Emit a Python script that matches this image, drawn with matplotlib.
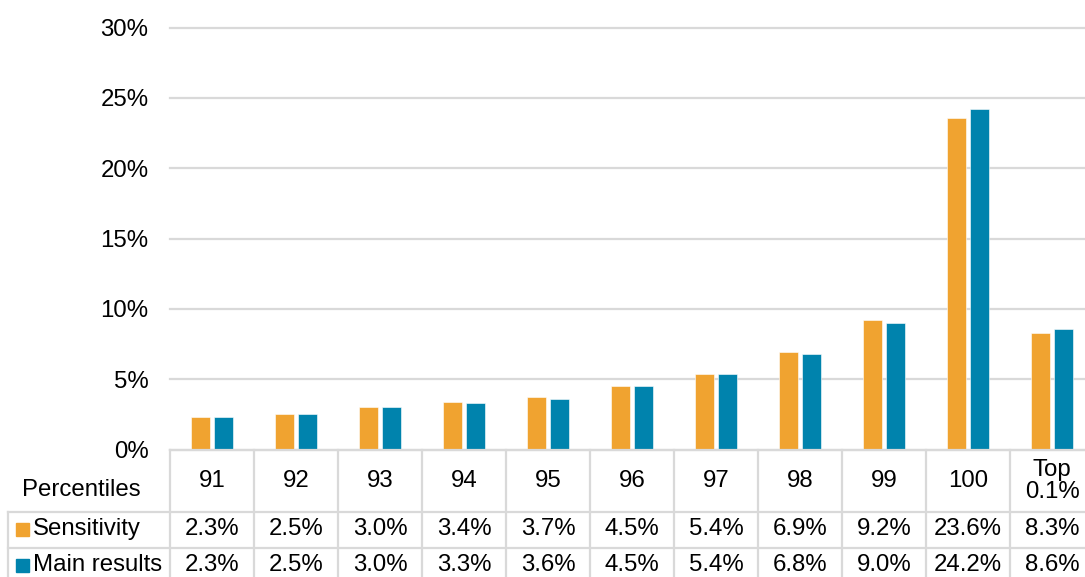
import matplotlib
matplotlib.use("Agg")
import matplotlib.pyplot as plt
from matplotlib.lines import Line2D
from matplotlib.patches import Rectangle
from matplotlib.transforms import blended_transform_factory
import numpy as np

plt.rcParams["font.family"] = ["Liberation Sans", "DejaVu Sans"]

# data (percent of total)
categories = ["91", "92", "93", "94", "95", "96", "97", "98", "99", "100", "Top\n0.1%"]
sensitivity = [2.3, 2.5, 3.0, 3.4, 3.7, 4.5, 5.4, 6.9, 9.2, 23.6, 8.3]
main_results = [2.3, 2.5, 3.0, 3.3, 3.6, 4.5, 5.4, 6.8, 9.0, 24.2, 8.6]
series_names = ["Sensitivity", "Main results"]
colors = ["#F0A330", "#0083AD"]
yticks = [0, 5, 10, 15, 20, 25, 30]

W, H = 1085, 577
grid_col = "#D9D9D9"
fs = 17.3

fig = plt.figure(figsize=(W / 100, H / 100), dpi=100)
# plot area; last column runs past the right edge like in the source
ax = fig.add_axes([170 / W, 1 - 449.5 / H, 924 / W, (449.5 - 27.5) / H])

x = np.arange(len(categories))
bw = 0.23
off = 0.14
ax.bar(x - off, sensitivity, bw, color=colors[0], edgecolor="white", linewidth=0.4, zorder=3)
ax.bar(x + off, main_results, bw, color=colors[1], edgecolor="white", linewidth=0.4, zorder=3)

ax.set_xlim(-0.5, len(categories) - 0.5)
ax.set_ylim(0, 30)
ax.set_yticks(yticks)
ax.set_yticklabels([f"{v}%" for v in yticks], fontsize=fs)
ax.set_xticks([])
ax.tick_params(axis="y", length=0, pad=15.5)
ax.grid(axis="y", color=grid_col, linewidth=1.6, zorder=0)
for gl in ax.get_ygridlines():
    gl.set_clip_on(False)
for s in ax.spines.values():
    s.set_visible(False)

# data table below the plot
tr = blended_transform_factory(ax.transData, fig.transFigure)
fy = lambda py: 1 - py / H

def hline(py, x0=8):
    fig.add_artist(Line2D([x0 / W, 1.0], [fy(py), fy(py)], color=grid_col,
                          linewidth=1.6, transform=fig.transFigure))

hline(449.5, 170)
hline(511.5)
hline(547.5)
for k in range(len(categories) + 1):
    fig.add_artist(Line2D([k - 0.5, k - 0.5], [fy(449.5), 0], color=grid_col,
                          linewidth=1.6, transform=tr))
fig.add_artist(Line2D([8 / W, 8 / W], [fy(511.5), 0], color=grid_col,
                      linewidth=1.6, transform=fig.transFigure))

fig.text(81 / W, fy(490), "Percentiles", ha="center", va="center", fontsize=fs)
for i, c in enumerate(categories):
    fig.text(i, fy(481), c, transform=tr, ha="center", va="center",
             fontsize=fs, linespacing=1.05)

rows = [(sensitivity, 529), (main_results, 565)]
for j, (vals, py) in enumerate(rows):
    fig.add_artist(Rectangle((16 / W, fy(py + 6.5)), 13 / W, 13 / H,
                             color=colors[j], transform=fig.transFigure))
    fig.text(33 / W, fy(py), series_names[j], ha="left", va="center", fontsize=fs)
    for i, v in enumerate(vals):
        fig.text(i, fy(py), f"{v:.1f}%", transform=tr, ha="center", va="center", fontsize=fs)

fig.savefig("out.png", dpi=100)
